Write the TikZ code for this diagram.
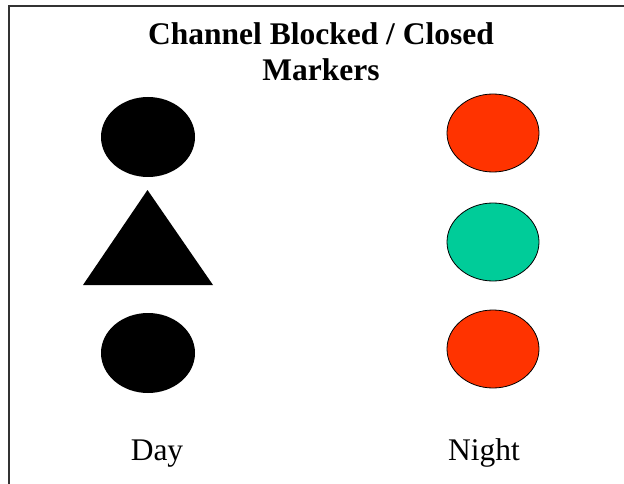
\documentclass[tikz,border=0pt]{standalone}
\usepackage{fontspec}
\setmainfont{Liberation Serif}
\usetikzlibrary{shapes.geometric}
\definecolor{nightred}{HTML}{FF3300}
\definecolor{nightgreen}{HTML}{00CC99}
\definecolor{framegray}{HTML}{333333}
\tikzset{
  x=1pt, y=1pt,
  dayoval/.style={ellipse, fill=black, draw=none, minimum width=94pt, minimum height=80pt, inner sep=0pt},
  nightoval/.style={ellipse, draw=black, line width=0.8pt, minimum width=92pt, minimum height=78pt, inner sep=0pt},
  titletext/.style={anchor=base, inner sep=0pt, font=\fontsize{31.5}{36}\selectfont\bfseries},
  labeltext/.style={anchor=base, inner sep=0pt, font=\fontsize{31.5}{36}\selectfont},
  frameline/.style={draw=framegray, line width=1.6pt}
}
\begin{document}
\begin{tikzpicture}
\useasboundingbox (0,0) rectangle (624,-484);
% frame (top and left edges only)
\coordinate (fbl) at (9,-484);
\coordinate (ftl) at (9,-6);
\coordinate (ftr) at (624,-6);
\draw[frameline] (fbl) -- (ftl) -- (ftr);
% title
\node[titletext] (title1) at (321,-44.3) {Channel Blocked / Closed};
\node[titletext] (title2) at (321,-81) {Markers};
% day markers
\node[dayoval] (dtop) at (148,-137) {};
\coordinate (tapex) at (147.5,-190);
\coordinate (tleft) at (83,-285);
\coordinate (tright) at (213,-285);
\fill[black] (tapex) -- (tleft) -- (tright) -- cycle;
\node[dayoval] (dbot) at (148,-353) {};
% night markers
\node[nightoval, fill=nightred] (ntop) at (493,-133) {};
\node[nightoval, fill=nightgreen] (nmid) at (493,-242) {};
\node[nightoval, fill=nightred] (nbot) at (493,-349) {};
% labels
\node[labeltext] (day) at (157,-460) {Day};
\node[labeltext] (night) at (484,-460) {Night};
\end{tikzpicture}
\end{document}
